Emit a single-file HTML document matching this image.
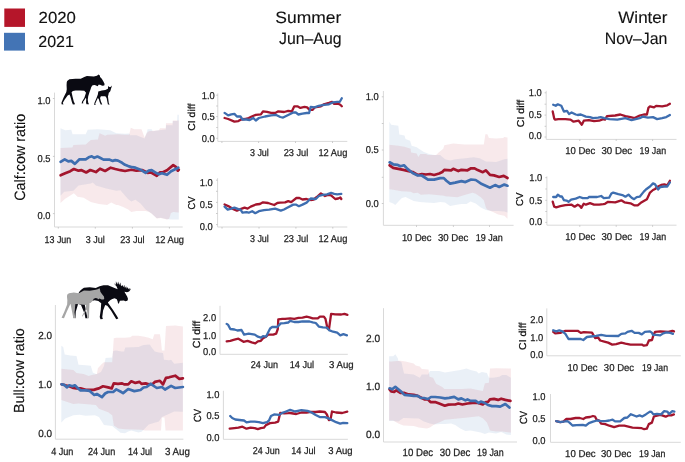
<!DOCTYPE html>
<html><head><meta charset="utf-8"><style>
html,body{margin:0;padding:0;background:#fff;width:685px;height:462px;overflow:hidden;position:relative;font-family:"Liberation Sans",sans-serif}
</style></head><body>
<svg width="685" height="462" viewBox="0 0 685 462" style="position:absolute;left:0;top:0;filter:blur(0.3px);will-change:transform;text-rendering:geometricPrecision;font-family:'Liberation Sans',sans-serif">
<rect x="4.3" y="8.5" width="20.7" height="18.4" fill="#B5162A"/>
<rect x="4" y="32.8" width="21" height="17.8" fill="#4374B5"/>
<text x="38.6" y="23" font-size="16" textLength="37.3" lengthAdjust="spacingAndGlyphs" fill="#111" stroke="#111" stroke-width="0.12">2020</text>
<text x="38.3" y="47" font-size="16" textLength="35.6" lengthAdjust="spacingAndGlyphs" fill="#111" stroke="#111" stroke-width="0.12">2021</text>
<text x="341.3" y="23.1" font-size="16.5" text-anchor="end" textLength="66.0" lengthAdjust="spacingAndGlyphs" fill="#111" stroke="#111" stroke-width="0.12">Summer</text>
<text x="341.5" y="43.8" font-size="16.5" text-anchor="end" textLength="62.5" lengthAdjust="spacingAndGlyphs" fill="#111" stroke="#111" stroke-width="0.12">Jun–Aug</text>
<text x="667.5" y="23.1" font-size="16.5" text-anchor="end" textLength="49.2" lengthAdjust="spacingAndGlyphs" fill="#111" stroke="#111" stroke-width="0.12">Winter</text>
<text x="667.4" y="43.8" font-size="16.5" text-anchor="end" textLength="62.6" lengthAdjust="spacingAndGlyphs" fill="#111" stroke="#111" stroke-width="0.12">Nov–Jan</text>
<text transform="translate(19.6,157.3) rotate(-90)" x="0" y="5.25" font-size="15" text-anchor="middle" textLength="87" lengthAdjust="spacingAndGlyphs" fill="#111" stroke="#111" stroke-width="0.12">Calf:cow ratio</text>
<text transform="translate(19.0,370.6) rotate(-90)" x="0" y="5.11" font-size="14.6" text-anchor="middle" textLength="84.8" lengthAdjust="spacingAndGlyphs" fill="#111" stroke="#111" stroke-width="0.12">Bull:cow ratio</text>
<text transform="translate(191.0,117.2) rotate(-90)" x="0" y="3.50" font-size="10" text-anchor="middle" textLength="26.9" lengthAdjust="spacingAndGlyphs" fill="#111" stroke="#111" stroke-width="0.25">CI diff</text>
<text transform="translate(191.2,203.0) rotate(-90)" x="0" y="3.50" font-size="10" text-anchor="middle" textLength="12.9" lengthAdjust="spacingAndGlyphs" fill="#111" stroke="#111" stroke-width="0.25">CV</text>
<text transform="translate(520.1,113.5) rotate(-90)" x="0" y="3.50" font-size="10" text-anchor="middle" textLength="27.3" lengthAdjust="spacingAndGlyphs" fill="#111" stroke="#111" stroke-width="0.25">CI diff</text>
<text transform="translate(519.9,199.2) rotate(-90)" x="0" y="3.50" font-size="10" text-anchor="middle" textLength="13.4" lengthAdjust="spacingAndGlyphs" fill="#111" stroke="#111" stroke-width="0.25">CV</text>
<text transform="translate(196.0,334.5) rotate(-90)" x="0" y="3.60" font-size="10.3" text-anchor="middle" textLength="27.3" lengthAdjust="spacingAndGlyphs" fill="#111" stroke="#111" stroke-width="0.25">CI diff</text>
<text transform="translate(197.1,415.5) rotate(-90)" x="0" y="3.60" font-size="10.3" text-anchor="middle" textLength="13.0" lengthAdjust="spacingAndGlyphs" fill="#111" stroke="#111" stroke-width="0.25">CV</text>
<text transform="translate(522.2,336.3) rotate(-90)" x="0" y="3.50" font-size="10" text-anchor="middle" textLength="27.2" lengthAdjust="spacingAndGlyphs" fill="#111" stroke="#111" stroke-width="0.25">CI diff</text>
<text transform="translate(523.8,417.4) rotate(-90)" x="0" y="3.60" font-size="10.3" text-anchor="middle" textLength="13.0" lengthAdjust="spacingAndGlyphs" fill="#111" stroke="#111" stroke-width="0.25">CV</text>
<polygon points="60.5,128.2 65.2,130.2 71.3,129.7 72.5,134.3 85.7,134.3 87.7,129.7 97.9,129.2 110.2,130.2 116.3,133.3 125.0,133.8 129.2,133.5 130.3,135.3 136.4,135.3 144.6,138.4 146.6,133.3 147.6,129.2 151.7,129.2 152.7,131.2 158.9,130.2 165.8,129.5 166.0,125.3 172.6,125.3 172.8,121.1 177.2,121.1 177.4,114.8 178.8,114.8 178.8,219.5 172.0,219.5 167.0,219.2 160.9,217.7 156.8,218.2 151.7,213.6 148.7,211.6 145.6,209.5 140.5,203.4 135.4,199.8 131.3,201.4 128.2,199.3 122.1,192.2 120.4,190.2 116.3,190.7 106.1,188.6 95.9,185.5 92.8,182.5 90.8,183.5 78.5,185.5 73.4,190.7 64.2,191.7 60.5,195.8" fill="rgba(67,116,181,0.11)"/>
<polygon points="60.5,148.1 72.4,147.6 73.4,145.0 85.7,144.5 90.8,139.9 97.9,139.4 99.5,133.3 103.7,134.9 105.1,135.8 107.1,134.8 118.4,134.3 125.0,134.8 129.2,134.8 130.8,127.7 134.3,129.2 141.5,129.2 144.6,137.4 146.6,133.3 148.7,131.2 158.9,130.2 160.0,128.2 165.8,128.2 166.0,123.2 172.6,123.2 172.8,120.6 178.8,120.6 178.8,212.6 173.2,212.1 171.0,213.0 169.1,218.7 167.0,219.4 160.9,217.9 156.8,218.4 151.7,213.8 148.7,211.8 145.6,211.0 143.5,211.1 136.4,211.1 131.3,212.1 128.2,209.5 123.1,207.0 118.0,204.9 116.3,205.0 111.2,202.4 107.1,205.0 99.0,204.0 90.8,201.9 83.6,197.8 77.5,196.8 73.9,193.2 65.2,198.8 60.5,202.9" fill="rgba(181,22,42,0.095)"/>
<polygon points="389.3,121.8 391.2,124.8 398.3,125.8 399.3,134.5 404.5,135.5 405.5,139.1 410.1,140.7 411.6,145.8 416.7,147.3 418.8,148.8 423.9,151.9 429.0,153.9 434.1,155.0 440.2,155.0 445.0,159.3 450.1,160.4 455.2,159.3 465.4,158.3 473.6,157.3 479.7,158.3 485.9,161.4 496.1,161.9 504.3,159.3 507.5,158.8 507.5,212.6 504.3,211.6 498.1,211.1 492.0,211.1 485.9,210.0 480.8,207.5 475.7,203.4 470.5,201.4 466.5,203.9 461.4,203.9 455.2,204.9 450.1,206.0 445.0,202.4 440.2,202.0 434.1,203.0 425.9,202.5 419.8,202.0 413.7,201.0 409.6,198.9 405.5,196.9 401.9,197.9 399.4,200.4 395.3,205.0 393.2,203.5 389.3,202.0" fill="rgba(67,116,181,0.11)"/>
<polygon points="389.3,144.7 398.3,145.8 404.5,146.8 410.6,148.8 411.1,152.4 416.7,153.4 418.3,157.0 420.3,153.9 425.9,153.9 428.0,155.0 436.1,155.0 439.2,151.9 443.3,148.8 444.3,145.3 453.2,143.5 464.4,144.5 483.8,144.5 485.4,134.3 487.4,134.3 488.9,137.9 496.1,138.4 503.2,137.9 504.3,136.9 507.5,137.4 507.5,218.7 504.3,215.7 498.1,214.6 493.0,212.1 487.0,209.5 485.9,207.5 483.8,200.3 480.8,197.3 475.7,193.7 472.6,192.7 465.4,194.7 457.3,197.3 445.0,196.2 444.3,195.8 439.2,195.3 429.0,194.3 420.8,194.8 417.7,192.8 413.7,193.3 410.6,191.8 401.4,191.2 393.2,189.7 389.3,189.2" fill="rgba(181,22,42,0.095)"/>
<polygon points="61.3,345.8 63.2,346.9 64.7,354.5 70.3,355.5 76.5,356.1 78.5,364.7 85.7,365.3 90.8,365.8 92.8,372.4 95.9,373.9 97.0,374.0 101.0,372.0 104.0,366.0 105.6,358.1 112.2,357.6 113.2,351.0 116.3,350.4 121.4,351.5 124.1,351.6 125.2,347.5 138.4,347.0 143.5,344.9 149.7,344.4 151.7,347.5 154.8,351.6 158.9,352.6 163.0,353.1 164.0,359.7 169.1,360.3 171.1,359.7 174.2,363.8 182.9,362.8 182.9,411.8 174.2,411.4 166.0,415.3 161.9,416.9 158.9,421.5 148.7,424.5 144.0,429.5 141.5,431.7 138.4,432.5 131.3,430.5 128.2,431.5 125.0,433.2 120.4,432.7 118.4,431.0 112.2,426.1 104.0,425.0 98.9,416.9 94.9,415.3 85.7,415.8 79.5,414.8 73.4,415.3 65.2,418.4 61.3,422.5" fill="rgba(67,116,181,0.11)"/>
<polygon points="61.3,368.8 73.4,369.9 76.5,372.9 83.6,373.9 88.7,376.0 91.8,375.0 96.9,373.9 97.9,368.3 102.0,363.7 104.0,362.2 112.2,362.2 113.8,338.2 116.3,337.7 125.0,337.7 130.3,337.3 132.3,335.7 138.4,335.7 144.6,336.8 148.7,337.8 152.7,339.3 154.3,334.2 159.9,334.2 160.9,340.3 161.9,350.5 164.5,350.5 166.0,326.0 175.2,325.5 182.9,326.5 182.9,430.6 165.5,430.6 164.5,417.5 161.9,417.5 161.0,430.6 145.0,430.6 141.5,429.8 125.0,429.2 118.4,428.6 113.8,425.5 112.2,415.3 108.1,412.3 98.9,408.7 95.9,405.1 78.5,403.6 73.4,404.1 61.3,400.0" fill="rgba(181,22,42,0.095)"/>
<polygon points="389.1,356.2 393.2,356.2 395.3,354.2 397.8,358.3 398.3,360.8 401.4,361.9 404.0,373.6 413.7,374.6 419.8,377.7 421.8,374.6 428.0,374.6 430.0,371.1 439.2,371.1 445.0,372.6 451.1,371.6 460.3,370.0 466.5,368.5 470.5,370.0 476.7,371.6 478.7,373.6 481.8,372.1 486.9,373.1 488.9,377.7 493.0,377.7 499.2,376.7 502.2,375.1 506.3,375.1 510.9,377.7 510.9,435.1 506.3,434.6 501.2,432.1 496.1,433.6 488.9,432.6 484.9,434.1 480.8,432.6 475.7,431.6 470.5,430.5 465.4,431.1 460.3,428.5 455.2,424.9 451.1,423.4 445.0,423.9 440.2,424.0 434.1,424.5 430.0,423.5 423.9,421.5 418.8,418.4 403.4,417.9 398.3,421.5 393.2,421.0 389.1,421.0" fill="rgba(67,116,181,0.11)"/>
<polygon points="389.1,361.4 391.2,361.4 400.4,360.8 405.5,361.4 413.7,363.4 415.7,365.4 419.8,366.5 421.8,369.0 428.5,369.5 429.5,376.7 433.1,377.7 436.1,383.8 442.3,386.9 444.3,388.9 455.2,388.9 461.4,388.9 470.5,388.4 477.7,390.0 482.8,391.0 484.9,383.3 488.9,382.8 490.0,368.5 496.1,368.3 510.9,368.5 510.9,432.6 502.2,431.6 496.1,431.6 490.0,430.5 488.9,427.5 486.9,422.4 482.8,418.3 478.7,416.2 465.4,417.8 455.2,418.8 445.0,419.8 444.3,419.9 440.2,422.0 434.1,424.5 430.0,427.6 426.9,428.6 418.8,427.6 413.7,426.1 403.4,425.5 398.3,423.5 393.2,420.4 389.1,420.4" fill="rgba(181,22,42,0.095)"/>
<line x1="54.5" y1="92.6" x2="54.5" y2="227" stroke="#D9D9D9" stroke-width="1"/>
<line x1="54.5" y1="227" x2="182.7" y2="227" stroke="#D9D9D9" stroke-width="1"/>
<line x1="58.3" y1="227" x2="58.3" y2="228.6" stroke="#BFBFBF" stroke-width="0.8"/>
<line x1="95.3" y1="227" x2="95.3" y2="228.6" stroke="#BFBFBF" stroke-width="0.8"/>
<line x1="132.4" y1="227" x2="132.4" y2="228.6" stroke="#BFBFBF" stroke-width="0.8"/>
<line x1="169.4" y1="227" x2="169.4" y2="228.6" stroke="#BFBFBF" stroke-width="0.8"/>
<line x1="52.9" y1="98.5" x2="54.5" y2="98.5" stroke="#BFBFBF" stroke-width="0.8"/>
<line x1="52.9" y1="156.4" x2="54.5" y2="156.4" stroke="#BFBFBF" stroke-width="0.8"/>
<line x1="52.9" y1="213.6" x2="54.5" y2="213.6" stroke="#BFBFBF" stroke-width="0.8"/>
<text x="50.5" y="103.74" font-size="10.0" text-anchor="end" textLength="13.0" lengthAdjust="spacingAndGlyphs" fill="#222222" stroke="#222222" stroke-width="0.25">1.0</text>
<text x="50.5" y="161.64" font-size="10.0" text-anchor="end" textLength="13.0" lengthAdjust="spacingAndGlyphs" fill="#222222" stroke="#222222" stroke-width="0.25">0.5</text>
<text x="50.5" y="218.94" font-size="10.0" text-anchor="end" textLength="13.0" lengthAdjust="spacingAndGlyphs" fill="#222222" stroke="#222222" stroke-width="0.25">0.0</text>
<text x="57.9" y="243.0" font-size="10.0" text-anchor="middle" textLength="26.8" lengthAdjust="spacingAndGlyphs" fill="#222222" stroke="#222222" stroke-width="0.25">13 Jun</text>
<text x="95.2" y="243.0" font-size="10.0" text-anchor="middle" textLength="18.9" lengthAdjust="spacingAndGlyphs" fill="#222222" stroke="#222222" stroke-width="0.25">3 Jul</text>
<text x="132.4" y="243.0" font-size="10.0" text-anchor="middle" textLength="24.4" lengthAdjust="spacingAndGlyphs" fill="#222222" stroke="#222222" stroke-width="0.25">23 Jul</text>
<text x="169.6" y="243.0" font-size="10.0" text-anchor="middle" textLength="28.9" lengthAdjust="spacingAndGlyphs" fill="#222222" stroke="#222222" stroke-width="0.25">12 Aug</text>
<line x1="217.8" y1="93.4" x2="217.8" y2="141.4" stroke="#D9D9D9" stroke-width="1"/>
<line x1="217.8" y1="141.4" x2="347.3" y2="141.4" stroke="#D9D9D9" stroke-width="1"/>
<line x1="221.9" y1="141.4" x2="221.9" y2="143.0" stroke="#BFBFBF" stroke-width="0.8"/>
<line x1="258.6" y1="141.4" x2="258.6" y2="143.0" stroke="#BFBFBF" stroke-width="0.8"/>
<line x1="295.5" y1="141.4" x2="295.5" y2="143.0" stroke="#BFBFBF" stroke-width="0.8"/>
<line x1="332.5" y1="141.4" x2="332.5" y2="143.0" stroke="#BFBFBF" stroke-width="0.8"/>
<line x1="216.20000000000002" y1="95.2" x2="217.8" y2="95.2" stroke="#BFBFBF" stroke-width="0.8"/>
<line x1="216.20000000000002" y1="106" x2="217.8" y2="106" stroke="#BFBFBF" stroke-width="0.8"/>
<line x1="216.20000000000002" y1="116.6" x2="217.8" y2="116.6" stroke="#BFBFBF" stroke-width="0.8"/>
<line x1="216.20000000000002" y1="127.5" x2="217.8" y2="127.5" stroke="#BFBFBF" stroke-width="0.8"/>
<line x1="216.20000000000002" y1="138.3" x2="217.8" y2="138.3" stroke="#BFBFBF" stroke-width="0.8"/>
<text x="214.8" y="99.04" font-size="10.0" text-anchor="end" textLength="13.0" lengthAdjust="spacingAndGlyphs" fill="#222222" stroke="#222222" stroke-width="0.25">1.0</text>
<text x="214.8" y="120.34" font-size="10.0" text-anchor="end" textLength="13.0" lengthAdjust="spacingAndGlyphs" fill="#222222" stroke="#222222" stroke-width="0.25">0.5</text>
<text x="214.8" y="142.24" font-size="10.0" text-anchor="end" textLength="13.0" lengthAdjust="spacingAndGlyphs" fill="#222222" stroke="#222222" stroke-width="0.25">0.0</text>
<text x="259.4" y="156.3" font-size="10.0" text-anchor="middle" textLength="18.9" lengthAdjust="spacingAndGlyphs" fill="#222222" stroke="#222222" stroke-width="0.25">3 Jul</text>
<text x="296" y="156.3" font-size="10.0" text-anchor="middle" textLength="24.6" lengthAdjust="spacingAndGlyphs" fill="#222222" stroke="#222222" stroke-width="0.25">23 Jul</text>
<text x="332.9" y="156.3" font-size="10.0" text-anchor="middle" textLength="28.9" lengthAdjust="spacingAndGlyphs" fill="#222222" stroke="#222222" stroke-width="0.25">12 Aug</text>
<line x1="217.6" y1="178.2" x2="217.6" y2="227.0" stroke="#D9D9D9" stroke-width="1"/>
<line x1="217.6" y1="227.0" x2="347.3" y2="227.0" stroke="#D9D9D9" stroke-width="1"/>
<line x1="222" y1="227.0" x2="222" y2="228.6" stroke="#BFBFBF" stroke-width="0.8"/>
<line x1="259" y1="227.0" x2="259" y2="228.6" stroke="#BFBFBF" stroke-width="0.8"/>
<line x1="295.9" y1="227.0" x2="295.9" y2="228.6" stroke="#BFBFBF" stroke-width="0.8"/>
<line x1="332.8" y1="227.0" x2="332.8" y2="228.6" stroke="#BFBFBF" stroke-width="0.8"/>
<line x1="216.0" y1="180.2" x2="217.6" y2="180.2" stroke="#BFBFBF" stroke-width="0.8"/>
<line x1="216.0" y1="191.3" x2="217.6" y2="191.3" stroke="#BFBFBF" stroke-width="0.8"/>
<line x1="216.0" y1="202.4" x2="217.6" y2="202.4" stroke="#BFBFBF" stroke-width="0.8"/>
<line x1="216.0" y1="213.5" x2="217.6" y2="213.5" stroke="#BFBFBF" stroke-width="0.8"/>
<line x1="216.0" y1="224.6" x2="217.6" y2="224.6" stroke="#BFBFBF" stroke-width="0.8"/>
<text x="212.8" y="185.64" font-size="10.0" text-anchor="end" textLength="13.0" lengthAdjust="spacingAndGlyphs" fill="#222222" stroke="#222222" stroke-width="0.25">1.0</text>
<text x="212.8" y="208.24" font-size="10.0" text-anchor="end" textLength="13.0" lengthAdjust="spacingAndGlyphs" fill="#222222" stroke="#222222" stroke-width="0.25">0.5</text>
<text x="212.8" y="230.04" font-size="10.0" text-anchor="end" textLength="13.0" lengthAdjust="spacingAndGlyphs" fill="#222222" stroke="#222222" stroke-width="0.25">0.0</text>
<text x="259.4" y="242.1" font-size="10.0" text-anchor="middle" textLength="18.9" lengthAdjust="spacingAndGlyphs" fill="#222222" stroke="#222222" stroke-width="0.25">3 Jul</text>
<text x="296" y="242.1" font-size="10.0" text-anchor="middle" textLength="24.6" lengthAdjust="spacingAndGlyphs" fill="#222222" stroke="#222222" stroke-width="0.25">23 Jul</text>
<text x="332.9" y="242.1" font-size="10.0" text-anchor="middle" textLength="28.9" lengthAdjust="spacingAndGlyphs" fill="#222222" stroke="#222222" stroke-width="0.25">12 Aug</text>
<line x1="383.4" y1="91.0" x2="383.4" y2="225.3" stroke="#D9D9D9" stroke-width="1"/>
<line x1="383.4" y1="225.3" x2="513.6" y2="225.3" stroke="#D9D9D9" stroke-width="1"/>
<line x1="416.5" y1="225.3" x2="416.5" y2="226.9" stroke="#BFBFBF" stroke-width="0.8"/>
<line x1="453.4" y1="225.3" x2="453.4" y2="226.9" stroke="#BFBFBF" stroke-width="0.8"/>
<line x1="489.5" y1="225.3" x2="489.5" y2="226.9" stroke="#BFBFBF" stroke-width="0.8"/>
<line x1="381.79999999999995" y1="96.8" x2="383.4" y2="96.8" stroke="#BFBFBF" stroke-width="0.8"/>
<line x1="381.79999999999995" y1="123.5" x2="383.4" y2="123.5" stroke="#BFBFBF" stroke-width="0.8"/>
<line x1="381.79999999999995" y1="150" x2="383.4" y2="150" stroke="#BFBFBF" stroke-width="0.8"/>
<line x1="381.79999999999995" y1="177.3" x2="383.4" y2="177.3" stroke="#BFBFBF" stroke-width="0.8"/>
<line x1="381.79999999999995" y1="203.5" x2="383.4" y2="203.5" stroke="#BFBFBF" stroke-width="0.8"/>
<text x="378.8" y="100.04" font-size="10.0" text-anchor="end" textLength="13.0" lengthAdjust="spacingAndGlyphs" fill="#222222" stroke="#222222" stroke-width="0.25">1.0</text>
<text x="378.8" y="153.14" font-size="10.0" text-anchor="end" textLength="13.0" lengthAdjust="spacingAndGlyphs" fill="#222222" stroke="#222222" stroke-width="0.25">0.5</text>
<text x="378.8" y="206.64" font-size="10.0" text-anchor="end" textLength="13.0" lengthAdjust="spacingAndGlyphs" fill="#222222" stroke="#222222" stroke-width="0.25">0.0</text>
<text x="416.7" y="241.3" font-size="10.0" text-anchor="middle" textLength="29.6" lengthAdjust="spacingAndGlyphs" fill="#222222" stroke="#222222" stroke-width="0.25">10 Dec</text>
<text x="453.2" y="241.3" font-size="10.0" text-anchor="middle" textLength="30.5" lengthAdjust="spacingAndGlyphs" fill="#222222" stroke="#222222" stroke-width="0.25">30 Dec</text>
<text x="489.2" y="241.3" font-size="10.0" text-anchor="middle" textLength="27.0" lengthAdjust="spacingAndGlyphs" fill="#222222" stroke="#222222" stroke-width="0.25">19 Jan</text>
<line x1="546.2" y1="90.8" x2="546.2" y2="139.4" stroke="#D9D9D9" stroke-width="1"/>
<line x1="546.2" y1="139.4" x2="676.5" y2="139.4" stroke="#D9D9D9" stroke-width="1"/>
<line x1="579.8" y1="139.4" x2="579.8" y2="141.0" stroke="#BFBFBF" stroke-width="0.8"/>
<line x1="616.2" y1="139.4" x2="616.2" y2="141.0" stroke="#BFBFBF" stroke-width="0.8"/>
<line x1="652.6" y1="139.4" x2="652.6" y2="141.0" stroke="#BFBFBF" stroke-width="0.8"/>
<line x1="544.6" y1="92.8" x2="546.2" y2="92.8" stroke="#BFBFBF" stroke-width="0.8"/>
<line x1="544.6" y1="104.2" x2="546.2" y2="104.2" stroke="#BFBFBF" stroke-width="0.8"/>
<line x1="544.6" y1="115.1" x2="546.2" y2="115.1" stroke="#BFBFBF" stroke-width="0.8"/>
<line x1="544.6" y1="126.3" x2="546.2" y2="126.3" stroke="#BFBFBF" stroke-width="0.8"/>
<line x1="544.6" y1="137" x2="546.2" y2="137" stroke="#BFBFBF" stroke-width="0.8"/>
<text x="541.8" y="95.74" font-size="10.0" text-anchor="end" textLength="13.0" lengthAdjust="spacingAndGlyphs" fill="#222222" stroke="#222222" stroke-width="0.25">1.0</text>
<text x="541.8" y="117.64" font-size="10.0" text-anchor="end" textLength="13.0" lengthAdjust="spacingAndGlyphs" fill="#222222" stroke="#222222" stroke-width="0.25">0.5</text>
<text x="541.8" y="139.34" font-size="10.0" text-anchor="end" textLength="13.0" lengthAdjust="spacingAndGlyphs" fill="#222222" stroke="#222222" stroke-width="0.25">0.0</text>
<text x="580.3" y="153.6" font-size="10.0" text-anchor="middle" textLength="30.2" lengthAdjust="spacingAndGlyphs" fill="#222222" stroke="#222222" stroke-width="0.25">10 Dec</text>
<text x="616.8" y="153.6" font-size="10.0" text-anchor="middle" textLength="30.7" lengthAdjust="spacingAndGlyphs" fill="#222222" stroke="#222222" stroke-width="0.25">30 Dec</text>
<text x="652.8" y="153.6" font-size="10.0" text-anchor="middle" textLength="26.5" lengthAdjust="spacingAndGlyphs" fill="#222222" stroke="#222222" stroke-width="0.25">19 Jan</text>
<line x1="546.9" y1="176.3" x2="546.9" y2="225.2" stroke="#D9D9D9" stroke-width="1"/>
<line x1="546.9" y1="225.2" x2="676.5" y2="225.2" stroke="#D9D9D9" stroke-width="1"/>
<line x1="579.8" y1="225.2" x2="579.8" y2="226.79999999999998" stroke="#BFBFBF" stroke-width="0.8"/>
<line x1="616.2" y1="225.2" x2="616.2" y2="226.79999999999998" stroke="#BFBFBF" stroke-width="0.8"/>
<line x1="652.6" y1="225.2" x2="652.6" y2="226.79999999999998" stroke="#BFBFBF" stroke-width="0.8"/>
<line x1="545.3" y1="177.7" x2="546.9" y2="177.7" stroke="#BFBFBF" stroke-width="0.8"/>
<line x1="545.3" y1="189" x2="546.9" y2="189" stroke="#BFBFBF" stroke-width="0.8"/>
<line x1="545.3" y1="200.3" x2="546.9" y2="200.3" stroke="#BFBFBF" stroke-width="0.8"/>
<line x1="545.3" y1="211.5" x2="546.9" y2="211.5" stroke="#BFBFBF" stroke-width="0.8"/>
<line x1="545.3" y1="222.4" x2="546.9" y2="222.4" stroke="#BFBFBF" stroke-width="0.8"/>
<text x="542.2" y="181.44" font-size="10.0" text-anchor="end" textLength="13.0" lengthAdjust="spacingAndGlyphs" fill="#222222" stroke="#222222" stroke-width="0.25">1.0</text>
<text x="542.2" y="203.74" font-size="10.0" text-anchor="end" textLength="13.0" lengthAdjust="spacingAndGlyphs" fill="#222222" stroke="#222222" stroke-width="0.25">0.5</text>
<text x="542.2" y="225.04" font-size="10.0" text-anchor="end" textLength="13.0" lengthAdjust="spacingAndGlyphs" fill="#222222" stroke="#222222" stroke-width="0.25">0.0</text>
<text x="580.3" y="239.9" font-size="10.0" text-anchor="middle" textLength="30.2" lengthAdjust="spacingAndGlyphs" fill="#222222" stroke="#222222" stroke-width="0.25">10 Dec</text>
<text x="616.8" y="239.9" font-size="10.0" text-anchor="middle" textLength="30.7" lengthAdjust="spacingAndGlyphs" fill="#222222" stroke="#222222" stroke-width="0.25">30 Dec</text>
<text x="652.8" y="239.9" font-size="10.0" text-anchor="middle" textLength="26.5" lengthAdjust="spacingAndGlyphs" fill="#222222" stroke="#222222" stroke-width="0.25">19 Jan</text>
<line x1="55.4" y1="305.0" x2="55.4" y2="439.2" stroke="#D9D9D9" stroke-width="1"/>
<line x1="55.4" y1="439.2" x2="183.4" y2="439.2" stroke="#D9D9D9" stroke-width="1"/>
<text x="52.0" y="339.34" font-size="10.3" text-anchor="end" textLength="13.8" lengthAdjust="spacingAndGlyphs" fill="#222222" stroke="#222222" stroke-width="0.25">2.0</text>
<text x="52.0" y="388.34" font-size="10.3" text-anchor="end" textLength="13.8" lengthAdjust="spacingAndGlyphs" fill="#222222" stroke="#222222" stroke-width="0.25">1.0</text>
<text x="52.0" y="436.64" font-size="10.3" text-anchor="end" textLength="13.8" lengthAdjust="spacingAndGlyphs" fill="#222222" stroke="#222222" stroke-width="0.25">0.0</text>
<text x="62.3" y="455.4" font-size="10.3" text-anchor="middle" textLength="22.3" lengthAdjust="spacingAndGlyphs" fill="#222222" stroke="#222222" stroke-width="0.25">4 Jun</text>
<text x="101.6" y="455.4" font-size="10.3" text-anchor="middle" textLength="27.3" lengthAdjust="spacingAndGlyphs" fill="#222222" stroke="#222222" stroke-width="0.25">24 Jun</text>
<text x="140.0" y="455.4" font-size="10.3" text-anchor="middle" textLength="24.1" lengthAdjust="spacingAndGlyphs" fill="#222222" stroke="#222222" stroke-width="0.25">14 Jul</text>
<text x="177.4" y="455.4" font-size="10.3" text-anchor="middle" textLength="25.0" lengthAdjust="spacingAndGlyphs" fill="#222222" stroke="#222222" stroke-width="0.25">3 Aug</text>
<line x1="220.0" y1="305.8" x2="220.0" y2="354.3" stroke="#D9D9D9" stroke-width="1"/>
<line x1="220.0" y1="354.3" x2="347.8" y2="354.3" stroke="#D9D9D9" stroke-width="1"/>
<text x="216.1" y="321.04" font-size="10.0" text-anchor="end" textLength="13.0" lengthAdjust="spacingAndGlyphs" fill="#222222" stroke="#222222" stroke-width="0.25">2.0</text>
<text x="216.1" y="338.54" font-size="10.0" text-anchor="end" textLength="13.0" lengthAdjust="spacingAndGlyphs" fill="#222222" stroke="#222222" stroke-width="0.25">1.0</text>
<text x="216.1" y="355.04" font-size="10.0" text-anchor="end" textLength="13.0" lengthAdjust="spacingAndGlyphs" fill="#222222" stroke="#222222" stroke-width="0.25">0.0</text>
<text x="264.4" y="367.8" font-size="10.0" text-anchor="middle" textLength="27.1" lengthAdjust="spacingAndGlyphs" fill="#222222" stroke="#222222" stroke-width="0.25">24 Jun</text>
<text x="301.9" y="367.8" font-size="10.0" text-anchor="middle" textLength="24.5" lengthAdjust="spacingAndGlyphs" fill="#222222" stroke="#222222" stroke-width="0.25">14 Jul</text>
<text x="341.3" y="367.8" font-size="10.0" text-anchor="middle" textLength="24.6" lengthAdjust="spacingAndGlyphs" fill="#222222" stroke="#222222" stroke-width="0.25">3 Aug</text>
<line x1="223.4" y1="390.8" x2="223.4" y2="439.3" stroke="#D9D9D9" stroke-width="1"/>
<line x1="223.4" y1="439.3" x2="347.9" y2="439.3" stroke="#D9D9D9" stroke-width="1"/>
<text x="219.4" y="397.84" font-size="10.0" text-anchor="end" textLength="13.0" lengthAdjust="spacingAndGlyphs" fill="#222222" stroke="#222222" stroke-width="0.25">1.0</text>
<text x="219.4" y="419.34" font-size="10.0" text-anchor="end" textLength="13.0" lengthAdjust="spacingAndGlyphs" fill="#222222" stroke="#222222" stroke-width="0.25">0.5</text>
<text x="219.4" y="441.24" font-size="10.0" text-anchor="end" textLength="13.0" lengthAdjust="spacingAndGlyphs" fill="#222222" stroke="#222222" stroke-width="0.25">0.0</text>
<text x="266.2" y="454.0" font-size="10.0" text-anchor="middle" textLength="26.9" lengthAdjust="spacingAndGlyphs" fill="#222222" stroke="#222222" stroke-width="0.25">24 Jun</text>
<text x="303.4" y="454.0" font-size="10.0" text-anchor="middle" textLength="24.4" lengthAdjust="spacingAndGlyphs" fill="#222222" stroke="#222222" stroke-width="0.25">14 Jul</text>
<text x="340.5" y="454.0" font-size="10.0" text-anchor="middle" textLength="24.3" lengthAdjust="spacingAndGlyphs" fill="#222222" stroke="#222222" stroke-width="0.25">3 Aug</text>
<line x1="383.5" y1="308.2" x2="383.5" y2="442.0" stroke="#D9D9D9" stroke-width="1"/>
<line x1="383.5" y1="442.0" x2="517.0" y2="442.0" stroke="#D9D9D9" stroke-width="1"/>
<text x="380.2" y="342.21" font-size="10.5" text-anchor="end" textLength="14.1" lengthAdjust="spacingAndGlyphs" fill="#222222" stroke="#222222" stroke-width="0.25">2.0</text>
<text x="380.2" y="389.81" font-size="10.5" text-anchor="end" textLength="14.1" lengthAdjust="spacingAndGlyphs" fill="#222222" stroke="#222222" stroke-width="0.25">1.0</text>
<text x="380.2" y="437.91" font-size="10.5" text-anchor="end" textLength="14.1" lengthAdjust="spacingAndGlyphs" fill="#222222" stroke="#222222" stroke-width="0.25">0.0</text>
<text x="417.9" y="455.6" font-size="10.5" text-anchor="middle" textLength="30.6" lengthAdjust="spacingAndGlyphs" fill="#222222" stroke="#222222" stroke-width="0.25">10 Dec</text>
<text x="455.1" y="455.6" font-size="10.5" text-anchor="middle" textLength="30.6" lengthAdjust="spacingAndGlyphs" fill="#222222" stroke="#222222" stroke-width="0.25">30 Dec</text>
<text x="490.4" y="455.6" font-size="10.5" text-anchor="middle" textLength="26.7" lengthAdjust="spacingAndGlyphs" fill="#222222" stroke="#222222" stroke-width="0.25">19 Jan</text>
<line x1="546.8" y1="308.4" x2="546.8" y2="355.8" stroke="#D9D9D9" stroke-width="1"/>
<line x1="546.8" y1="355.8" x2="680.8" y2="355.8" stroke="#D9D9D9" stroke-width="1"/>
<text x="543.3" y="323.44" font-size="10.0" text-anchor="end" textLength="13.0" lengthAdjust="spacingAndGlyphs" fill="#222222" stroke="#222222" stroke-width="0.25">2.0</text>
<text x="543.3" y="341.14" font-size="10.0" text-anchor="end" textLength="13.0" lengthAdjust="spacingAndGlyphs" fill="#222222" stroke="#222222" stroke-width="0.25">1.0</text>
<text x="543.3" y="358.24" font-size="10.0" text-anchor="end" textLength="13.0" lengthAdjust="spacingAndGlyphs" fill="#222222" stroke="#222222" stroke-width="0.25">0.0</text>
<text x="582.5" y="370.6" font-size="10.0" text-anchor="middle" textLength="30.1" lengthAdjust="spacingAndGlyphs" fill="#222222" stroke="#222222" stroke-width="0.25">10 Dec</text>
<text x="619.0" y="370.6" font-size="10.0" text-anchor="middle" textLength="30.3" lengthAdjust="spacingAndGlyphs" fill="#222222" stroke="#222222" stroke-width="0.25">30 Dec</text>
<text x="655.0" y="370.6" font-size="10.0" text-anchor="middle" textLength="26.1" lengthAdjust="spacingAndGlyphs" fill="#222222" stroke="#222222" stroke-width="0.25">19 Jan</text>
<line x1="550.5" y1="394.0" x2="550.5" y2="442.3" stroke="#D9D9D9" stroke-width="1"/>
<line x1="550.5" y1="442.3" x2="680.8" y2="442.3" stroke="#D9D9D9" stroke-width="1"/>
<text x="545.5" y="399.64" font-size="10.0" text-anchor="end" textLength="13.0" lengthAdjust="spacingAndGlyphs" fill="#222222" stroke="#222222" stroke-width="0.25">1.0</text>
<text x="545.5" y="421.84" font-size="10.0" text-anchor="end" textLength="13.0" lengthAdjust="spacingAndGlyphs" fill="#222222" stroke="#222222" stroke-width="0.25">0.5</text>
<text x="545.5" y="443.84" font-size="10.0" text-anchor="end" textLength="13.0" lengthAdjust="spacingAndGlyphs" fill="#222222" stroke="#222222" stroke-width="0.25">0.0</text>
<text x="580.3" y="456.9" font-size="10.0" text-anchor="middle" textLength="30.5" lengthAdjust="spacingAndGlyphs" fill="#222222" stroke="#222222" stroke-width="0.25">10 Dec</text>
<text x="616.2" y="456.9" font-size="10.0" text-anchor="middle" textLength="30.4" lengthAdjust="spacingAndGlyphs" fill="#222222" stroke="#222222" stroke-width="0.25">30 Dec</text>
<text x="652.2" y="456.9" font-size="10.0" text-anchor="middle" textLength="26.2" lengthAdjust="spacingAndGlyphs" fill="#222222" stroke="#222222" stroke-width="0.25">19 Jan</text>
<polyline points="60.6,175.3 65.2,173.3 70.3,171.2 73.9,169.0 78.5,170.7 81.6,170.2 86.2,172.5 90.3,170.0 95.9,172.1 100.0,168.7 105.1,171.0 110.7,167.7 115.3,169.0 120.4,170.2 125.0,171.0 131.3,169.7 136.4,170.7 142.5,170.2 147.6,172.8 150.7,172.3 156.8,175.8 159.9,172.3 163.0,172.3 167.0,170.2 173.2,165.1 176.2,167.2 177.8,170.7 178.8,169.7" fill="none" stroke="#A3152D" stroke-width="2.7" stroke-linejoin="round" stroke-linecap="round"/>
<polyline points="60.6,161.9 64.7,159.3 68.3,161.4 71.3,160.9 74.9,163.9 79.5,159.3 85.7,159.3 88.7,157.3 91.8,156.3 94.3,157.8 97.4,156.6 100.0,157.8 103.5,159.6 109.2,159.6 112.7,160.9 115.3,160.1 118.0,160.6 122.1,162.8 125.0,164.8 128.2,166.1 132.3,167.2 135.4,167.7 140.5,169.7 145.6,172.8 148.7,170.7 151.7,170.2 156.8,173.3 158.9,174.3 161.9,173.3 167.0,174.8 171.1,171.2 175.2,169.2 178.3,167.7" fill="none" stroke="#3E6EB0" stroke-width="2.7" stroke-linejoin="round" stroke-linecap="round"/>
<polyline points="224.6,118.0 228.2,119.0 234.4,121.6 238.4,121.1 241.0,119.5 244.6,119.0 248.7,118.0 251.7,116.5 255.8,114.9 260.9,114.4 263.0,111.3 267.0,111.9 271.1,112.9 275.2,112.9 278.3,111.3 284.1,112.0 288.2,110.9 291.8,111.5 294.3,106.3 297.4,106.3 300.4,107.9 304.5,106.9 307.1,107.4 309.6,109.9 312.7,109.9 314.7,107.4 320.9,106.3 323.9,104.3 329.0,102.8 332.1,101.8 334.2,103.8 338.2,103.8 340.3,104.8 341.8,106.3" fill="none" stroke="#A3152D" stroke-width="2.3" stroke-linejoin="round" stroke-linecap="round"/>
<polyline points="224.6,112.9 228.2,115.4 231.3,114.4 234.4,113.9 236.9,116.5 240.5,116.5 242.5,119.5 246.6,119.5 249.7,120.0 253.3,118.0 255.8,120.5 258.9,118.0 265.0,116.5 271.1,115.4 276.2,114.9 280.3,117.0 283.1,117.6 288.2,115.0 293.3,112.5 295.8,112.5 298.4,114.5 302.5,113.7 306.6,113.0 309.1,113.0 310.7,106.9 314.7,107.4 318.8,105.8 323.9,104.8 329.0,104.3 333.1,102.3 337.2,101.8 339.8,101.8 341.8,98.2" fill="none" stroke="#3E6EB0" stroke-width="2.3" stroke-linejoin="round" stroke-linecap="round"/>
<polyline points="224.6,204.5 228.2,206.1 232.3,208.6 236.9,210.7 240.5,209.1 244.6,207.6 247.6,208.6 250.7,206.6 255.8,204.5 259.9,204.0 263.0,202.3 268.1,203.0 271.1,204.0 274.2,205.0 277.3,203.0 280.0,202.6 285.1,202.4 288.2,201.1 291.2,202.1 296.4,198.0 299.4,198.0 302.5,199.5 306.6,199.0 310.7,200.0 313.7,199.5 316.8,197.0 320.9,193.4 325.0,196.0 328.0,194.9 331.1,195.4 335.2,199.0 338.2,198.5 340.3,197.5 341.3,199.0" fill="none" stroke="#A3152D" stroke-width="2.3" stroke-linejoin="round" stroke-linecap="round"/>
<polyline points="224.6,206.6 227.7,209.6 231.3,208.6 234.4,207.6 238.4,209.1 240.5,209.6 242.5,212.7 246.6,212.2 248.7,212.7 252.2,211.2 255.3,213.2 258.9,211.2 264.0,210.1 269.1,209.6 275.2,208.6 280.8,210.7 284.0,209.5 287.2,207.7 293.3,204.6 295.8,204.6 298.9,206.2 302.5,204.6 306.6,202.6 310.7,198.5 315.8,199.0 318.8,196.0 322.9,194.9 327.0,194.4 331.1,192.9 334.2,193.9 337.2,194.4 341.3,193.9" fill="none" stroke="#3E6EB0" stroke-width="2.3" stroke-linejoin="round" stroke-linecap="round"/>
<polyline points="389.6,165.3 393.2,167.9 398.3,168.9 403.4,169.9 407.5,170.9 412.6,172.0 417.7,175.0 421.8,174.0 425.9,174.5 430.0,174.0 434.1,175.0 439.2,173.5 442.3,172.0 444.3,169.9 451.1,170.3 453.2,168.8 458.3,171.1 461.4,169.8 467.5,170.3 471.1,168.3 474.6,168.3 477.7,170.1 482.8,172.2 485.9,170.3 490.0,174.9 494.0,175.4 499.2,177.0 503.8,175.9 507.5,178.0" fill="none" stroke="#A3152D" stroke-width="2.7" stroke-linejoin="round" stroke-linecap="round"/>
<polyline points="389.6,162.3 393.2,164.3 397.3,164.8 400.4,166.3 404.0,165.3 407.5,168.9 412.6,173.0 417.7,175.5 421.8,175.5 428.0,179.6 434.1,179.6 440.2,178.1 443.8,178.1 446.4,180.7 450.1,183.6 455.2,182.6 461.4,181.1 465.4,182.1 471.1,179.5 475.7,180.0 481.8,184.1 490.0,187.7 495.1,185.1 499.2,186.9 504.3,184.6 507.5,185.7" fill="none" stroke="#3E6EB0" stroke-width="2.7" stroke-linejoin="round" stroke-linecap="round"/>
<polyline points="552.7,111.5 554.2,118.6 555.2,119.6 558.3,119.1 565.4,119.1 570.5,119.6 573.6,121.7 578.7,120.7 581.8,124.7 583.8,120.7 588.9,120.1 594.0,121.2 599.2,120.7 603.2,119.1 605.0,119.6 607.0,116.1 615.2,115.5 620.3,114.5 625.4,116.1 630.5,117.1 634.6,118.1 639.7,115.5 643.8,114.5 646.9,114.5 648.4,107.9 650.0,106.3 654.0,107.4 656.1,105.8 662.2,106.3 667.3,105.3 669.9,103.8" fill="none" stroke="#A3152D" stroke-width="2.3" stroke-linejoin="round" stroke-linecap="round"/>
<polyline points="553.2,104.8 555.7,105.8 557.8,104.3 561.3,105.8 563.9,111.5 567.0,110.9 569.0,114.0 571.6,112.5 575.7,114.5 577.7,115.0 580.8,114.5 585.9,116.6 590.0,117.1 593.0,118.1 598.1,117.6 600.7,117.1 604.3,118.1 609.4,119.1 617.3,119.6 625.4,118.1 631.6,120.1 635.7,119.1 639.7,118.1 642.8,116.6 647.9,117.6 653.0,117.1 657.1,119.1 662.2,118.1 666.3,117.1 669.9,115.0" fill="none" stroke="#3E6EB0" stroke-width="2.3" stroke-linejoin="round" stroke-linecap="round"/>
<polyline points="552.7,201.6 554.2,206.7 556.2,207.3 560.3,206.2 565.4,205.2 571.6,204.7 574.6,206.7 577.7,204.7 579.7,205.7 581.3,207.8 583.8,203.7 585.9,204.7 590.0,203.2 594.0,204.7 599.2,204.7 603.2,204.2 605.0,203.8 608.1,201.8 615.2,202.3 621.3,200.3 624.4,202.3 630.5,203.3 634.6,205.4 637.7,205.4 640.8,202.8 646.9,199.2 650.0,192.6 653.0,190.0 655.1,189.0 658.1,186.5 661.2,184.9 664.3,184.4 667.3,185.4 669.9,180.8" fill="none" stroke="#A3152D" stroke-width="2.3" stroke-linejoin="round" stroke-linecap="round"/>
<polyline points="553.2,197.0 556.2,197.0 557.8,194.7 560.3,196.5 561.9,196.5 563.9,200.1 566.5,200.6 568.5,201.8 571.1,199.6 575.7,198.6 579.7,197.0 582.8,198.1 587.9,198.1 588.9,197.0 597.1,197.0 601.2,196.0 603.8,198.1 609.1,197.7 611.4,193.5 613.2,192.6 618.3,194.1 622.4,195.1 625.4,196.7 628.5,194.6 631.6,197.7 634.1,199.2 636.7,197.2 639.7,196.7 643.8,191.6 645.9,189.5 650.0,186.5 653.0,183.4 655.1,184.4 658.1,189.5 660.2,187.0 664.3,186.5 667.3,186.5 669.9,182.4" fill="none" stroke="#3E6EB0" stroke-width="2.3" stroke-linejoin="round" stroke-linecap="round"/>
<polyline points="61.6,384.3 65.2,385.3 69.3,386.3 73.4,387.9 76.5,388.4 80.5,388.4 85.7,389.9 93.8,389.9 96.9,388.9 98.9,388.4 103.0,386.3 108.1,387.4 111.7,388.4 113.8,383.3 118.0,383.9 122.1,383.4 124.1,384.4 128.2,384.4 131.3,381.3 135.4,382.9 139.5,381.9 141.5,383.9 145.6,383.4 148.7,384.4 152.7,383.9 154.8,381.9 159.9,380.8 163.0,384.4 166.0,377.8 169.1,377.3 175.2,375.7 179.3,378.8 182.9,378.3" fill="none" stroke="#A3152D" stroke-width="2.7" stroke-linejoin="round" stroke-linecap="round"/>
<polyline points="61.6,384.3 64.2,384.8 66.8,387.4 69.3,385.3 72.4,386.3 74.9,385.3 77.5,387.9 80.5,390.4 85.7,390.4 89.7,390.9 94.3,395.0 96.9,394.0 102.0,397.1 105.1,393.5 108.1,392.0 113.2,392.0 116.3,389.4 120.4,391.5 123.1,393.1 128.2,389.0 134.3,391.1 140.5,390.0 143.5,387.5 146.6,387.0 150.7,383.9 156.8,388.0 161.9,387.0 165.0,389.5 171.1,385.9 175.2,388.0 182.9,387.0" fill="none" stroke="#3E6EB0" stroke-width="2.7" stroke-linejoin="round" stroke-linecap="round"/>
<polyline points="226.7,341.3 230.3,340.8 234.4,339.7 238.4,338.7 243.5,341.8 247.6,340.8 251.7,342.3 255.3,343.3 257.9,341.3 260.9,340.8 263.0,338.2 266.0,336.7 268.1,334.6 273.2,334.6 276.2,333.6 277.8,329.0 278.3,319.3 282.4,318.8 285.1,318.9 290.2,318.4 294.3,318.9 298.4,317.9 302.5,317.6 306.6,316.6 309.6,317.4 312.7,318.4 317.8,318.4 319.9,316.6 323.9,316.6 325.5,318.9 327.5,328.6 329.0,329.1 331.1,313.8 335.2,314.3 341.3,314.5 344.4,313.8 347.4,314.8" fill="none" stroke="#A3152D" stroke-width="2.3" stroke-linejoin="round" stroke-linecap="round"/>
<polyline points="226.7,323.9 228.2,324.9 230.3,329.0 234.4,329.5 237.4,330.5 241.5,330.0 244.1,334.6 248.7,333.6 254.8,334.6 257.9,336.7 260.9,337.7 263.0,336.2 266.0,336.7 268.1,332.6 270.1,328.5 272.2,327.0 277.3,327.0 279.3,324.9 280.8,323.4 284.4,323.2 288.2,322.5 290.2,320.9 294.3,322.0 298.4,322.0 302.5,321.3 309.6,321.5 312.7,322.3 315.8,323.0 318.8,326.6 322.9,327.4 327.0,327.6 329.0,330.1 333.1,331.7 337.2,332.7 340.3,335.3 343.4,334.2 346.9,335.3" fill="none" stroke="#3E6EB0" stroke-width="2.3" stroke-linejoin="round" stroke-linecap="round"/>
<polyline points="229.7,428.7 234.3,428.2 238.4,427.7 242.4,426.7 246.5,428.7 250.6,427.7 254.7,428.2 257.8,429.2 260.8,428.2 263.9,427.7 265.9,425.1 270.0,423.1 275.1,422.6 278.2,421.6 280.2,412.9 284.3,413.4 288.4,413.2 290.1,413.0 296.2,414.0 301.4,412.5 306.5,412.5 309.5,412.0 315.7,412.0 319.7,411.5 324.9,412.0 326.9,414.5 328.9,420.1 330.5,419.6 332.0,411.5 336.1,412.5 342.2,413.0 347.3,411.7" fill="none" stroke="#A3152D" stroke-width="2.3" stroke-linejoin="round" stroke-linecap="round"/>
<polyline points="230.2,416.0 232.2,418.0 235.3,419.5 239.4,420.0 244.0,420.5 246.5,422.4 250.6,421.6 254.7,421.6 258.8,422.1 262.9,423.1 267.0,422.1 269.0,420.5 271.0,416.0 274.1,414.4 279.2,414.9 282.3,412.9 285.4,411.7 290.1,409.9 295.2,411.5 301.4,410.2 307.5,410.9 311.6,412.5 315.7,415.0 319.7,417.1 324.9,417.1 327.9,418.1 332.0,420.1 336.1,422.2 340.2,423.7 343.2,422.9 347.3,423.2" fill="none" stroke="#3E6EB0" stroke-width="2.3" stroke-linejoin="round" stroke-linecap="round"/>
<polyline points="389.6,389.5 391.2,391.4 394.2,391.9 396.3,390.3 400.4,392.9 404.5,392.9 408.5,394.4 413.7,394.9 417.7,395.9 421.8,398.0 424.9,399.5 428.0,399.5 430.5,402.1 435.1,402.1 439.2,403.6 444.8,405.7 448.4,404.6 452.0,404.5 455.2,404.5 458.3,403.5 462.4,404.5 467.5,403.5 472.6,403.0 476.7,402.7 479.7,403.5 482.8,404.5 485.9,402.0 487.9,402.0 490.0,399.4 494.0,398.9 498.1,399.9 501.2,398.7 505.3,399.9 510.4,400.9" fill="none" stroke="#A3152D" stroke-width="2.7" stroke-linejoin="round" stroke-linecap="round"/>
<polyline points="389.6,388.3 392.2,389.3 395.3,386.8 398.3,389.3 401.4,391.9 404.5,394.9 409.6,395.4 413.7,395.9 417.7,395.9 420.8,398.0 423.9,398.0 428.0,399.0 431.0,397.0 435.1,397.0 440.2,397.5 445.0,398.4 449.1,397.9 454.2,396.9 458.3,399.4 461.4,398.4 465.4,400.4 467.5,399.4 470.5,400.9 475.7,400.9 478.7,403.0 480.8,401.5 484.9,403.0 487.9,405.0 492.0,406.1 496.1,406.1 500.2,406.6 505.3,404.0 509.4,407.6" fill="none" stroke="#3E6EB0" stroke-width="2.7" stroke-linejoin="round" stroke-linecap="round"/>
<polyline points="553.2,331.9 555.2,333.4 560.3,332.9 565.4,330.8 570.5,330.8 577.7,330.8 580.8,332.9 583.8,332.2 592.0,332.6 593.0,334.4 595.1,338.0 598.1,337.5 600.2,340.5 604.3,341.6 608.1,342.6 612.2,344.6 616.2,344.1 621.3,342.6 625.4,343.6 630.5,344.6 641.8,344.6 643.8,345.7 646.9,345.1 648.9,340.5 652.0,340.0 653.5,334.9 655.1,331.9 660.2,331.3 664.3,331.6 668.4,331.9 672.4,330.8 674.0,331.3" fill="none" stroke="#A3152D" stroke-width="2.3" stroke-linejoin="round" stroke-linecap="round"/>
<polyline points="553.2,330.3 556.2,331.3 559.3,330.3 562.4,331.3 565.4,333.9 568.5,339.0 572.6,339.0 580.8,339.0 583.3,340.0 586.9,337.0 591.0,336.5 596.1,335.9 601.2,334.9 606.3,335.9 618.3,336.0 621.3,333.9 625.4,333.4 627.5,331.9 631.6,330.8 634.6,332.9 638.7,332.9 641.8,334.4 644.9,331.9 650.0,331.3 652.0,332.9 653.0,334.9 656.1,334.9 660.2,335.4 663.2,333.4 666.3,332.4 670.4,332.9 673.0,333.9" fill="none" stroke="#3E6EB0" stroke-width="2.3" stroke-linejoin="round" stroke-linecap="round"/>
<polyline points="556.2,421.1 560.3,422.1 563.3,421.6 566.4,419.0 570.5,419.0 575.6,418.0 579.7,418.0 583.3,419.0 585.8,417.5 589.9,417.0 593.0,416.0 595.0,416.5 596.5,419.5 599.1,420.5 601.1,423.6 605.2,424.1 609.3,425.7 614.1,427.2 619.2,425.7 624.3,425.7 628.4,426.7 632.5,427.7 637.6,427.9 641.7,428.2 644.2,429.2 646.8,428.7 648.8,424.1 651.9,422.6 653.9,416.5 656.0,415.9 660.1,414.9 662.1,415.4 665.7,416.7 668.2,415.4 671.3,415.4 673.9,414.4" fill="none" stroke="#A3152D" stroke-width="2.3" stroke-linejoin="round" stroke-linecap="round"/>
<polyline points="556.2,421.1 560.3,422.1 563.3,421.6 567.4,421.1 569.5,422.6 572.5,425.5 576.6,425.1 582.7,424.8 585.8,425.7 588.9,423.1 593.0,421.6 597.1,420.5 601.1,421.1 605.2,421.1 609.3,420.5 612.6,419.7 615.1,421.4 620.2,421.4 624.3,418.0 627.4,417.5 630.9,414.2 636.6,416.5 639.6,415.4 642.2,416.5 645.8,414.4 649.9,411.6 651.4,411.9 653.4,414.4 657.0,413.9 661.1,414.4 664.2,411.1 667.2,411.6 669.3,413.9 672.3,411.1 674.4,411.6" fill="none" stroke="#3E6EB0" stroke-width="2.3" stroke-linejoin="round" stroke-linecap="round"/>
<g transform="translate(58,70) scale(0.087591)"><path d="M105,125 L130,105 L200,100 L260,100 L300,80 L330,68 L370,72 L410,75 L445,65 L462,52 L478,62 L480,80 L500,100 L520,135 L532,160 L528,178 L505,180 L480,168 L462,168 L455,185 L440,180 L420,170 L395,175 L380,195 L370,225 L360,250 L345,300 L340,340 L345,375 L355,392 L325,392 L320,370 L322,330 L318,318 L300,345 L285,365 L290,380 L270,382 L275,360 L300,320 L320,260 L300,238 L250,235 L200,235 L170,240 L155,255 L165,300 L180,360 L195,392 L170,395 L160,370 L140,300 L130,280 L110,290 L75,340 L55,375 L62,395 L40,392 L40,370 L65,310 L95,250 L100,220 L98,175 L100,140 Z" fill="#0a0a12"/><path d="M460,245 L500,235 L540,228 L570,215 L572,190 L575,182 L585,195 L600,195 L612,178 L612,195 L605,215 L598,240 L590,250 L580,260 L575,285 L570,300 L575,340 L580,380 L590,395 L570,395 L565,370 L555,320 L540,300 L520,300 L490,300 L480,320 L490,360 L505,395 L488,395 L475,365 L465,330 L455,320 L440,350 L425,385 L430,400 L412,398 L418,370 L440,320 L455,280 Z" fill="#0a0a12"/></g>
<g transform="translate(60,278) scale(0.10511)"><path d="M180,135 C195,112 215,100 228,92 L283,88 L340,94 L377,79 L414,70 L457,68 L479,79 L519,94 L548.6,106.3 L538.7,82 L523,64 L514,47 L531,66 L532,32 L546,62 L553,34 L563,66 L574,44 L581,78 L594,66 L603,88 L611,64 L618,95 L629,78 L636,102 L644,86 L650,107 L659,93 L663,112 L672,98 L670.5,112 L657.3,128.5 L637.6,135.9 L613,131 L625,152 L640,178 L647,199 L641,216 L623,222 L607,213 L570,217 L561,241 L553,246 L548,222 L540,201 L519,192 L498,200 L480,210 L455,232 L470,255 L505,305 L540,360 L555,385 L535,392 L522,372 L485,310 L450,265 L430,258 L410,310 L402,370 L408,390 L385,392 L378,372 L388,300 L392,240 L365,218 L330,212 L300,220 L240,250 L236,257 L262,384 L242,384 L234,340 L200,257 L173,245 L150,320 L147,384 L128,376 L134,320 L140,245 L168,200 L175,160 Z" fill="#0a0a12"/><path d="M69.5,158 L85.6,144.6 L132,138 L178,144.6 L228,118 L283,122 L340,112 L358,106 L377,98 L381,112 L384,131 L399,153 L418,176 L421,198 L414,205 L395,204 L377,194 L361,205 L358,194 L340,190 L321,198 L310,220 L290,237 L281,238 L278,304 L276,384 L258,384 L261,340 L256,300 L214,366 L208,364 L246,292 L248,258 L200,252 L150,248 L146,250 L138,323 L146,384 L126,382 L122,357 L100,246 L94,258 L64,322 L38,382 L15,379 L42,318 L68,252 L70,214 L66,174 Z" fill="#A6A6A6"/></g>
</svg>
</body></html>
